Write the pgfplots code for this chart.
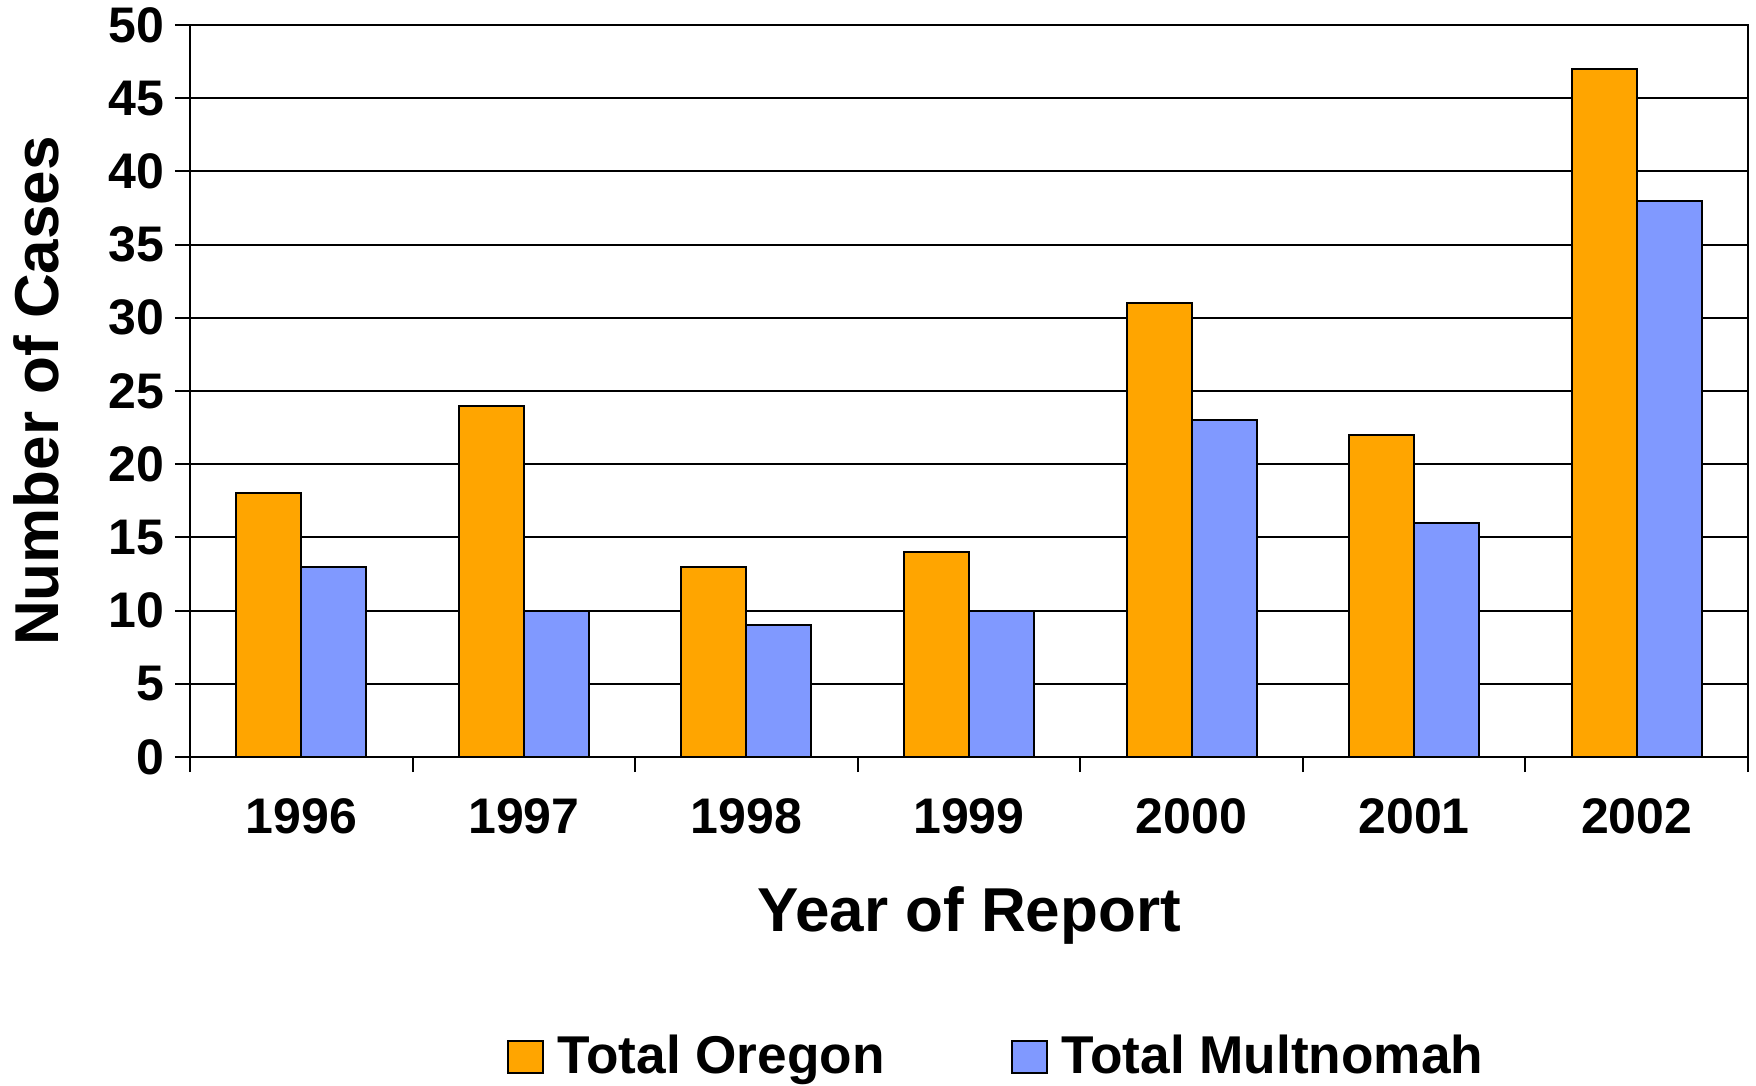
\documentclass[border=0pt]{standalone}
\usepackage{pgfplots}
\pgfplotsset{compat=1.18}
\usepackage{fontspec}
\setmainfont{Liberation Sans}
\definecolor{oregon}{RGB}{255,165,0}
\definecolor{multno}{RGB}{128,153,255}

\begin{document}
\begin{tikzpicture}
\begin{axis}[
  scale only axis, width=389.5pt, height=183pt,
  ybar=0pt, bar width=16.25pt,
  xmin=-0.5, xmax=6.5, ymin=0, ymax=50,
  xtick={0,...,6},
  xticklabels={1996,1997,1998,1999,2000,2001,2002},
  minor xtick={-0.5,0.5,...,6.5},
  ytick={0,5,...,50},
  xtick pos=bottom, ytick pos=left,
  tick align=outside,
  major x tick style={draw=none},
  major tick length=3.75pt, minor tick length=3.75pt,
  tick style={black, line width=0.5pt},
  ymajorgrids, grid style={black, line width=0.5pt},
  axis line style={black, line width=0.5pt},
  /pgf/number format/assume math mode=true,
  tick label style={font=\fontsize{12.5}{15}\selectfont\bfseries},
  xticklabel style={inner sep=0pt, anchor=north, yshift=-6.5pt},
  yticklabel style={inner xsep=2.5pt},
  xlabel={Year of Report}, ylabel={Number of Cases},
  label style={font=\fontsize{15.5}{18}\selectfont\bfseries, inner sep=0pt},
  xlabel style={at={(axis description cs:0.5,-0.1762)}, anchor=north},
  ylabel style={at={(axis description cs:-0.1136,0.5)}, anchor=north, rotate=0},
  legend columns=2,
  legend style={draw=none, fill=none, inner sep=0pt, anchor=center,
    at={(axis description cs:0.5167,-0.4098)},
    font=\fontsize{13.3}{16}\selectfont\bfseries,
    nodes={inner sep=0pt, anchor=west},
    /tikz/every odd column/.append style={column sep=3.5pt},
    /tikz/every even column/.append style={column sep=31.5pt}},
  legend image code/.code={\draw[#1, draw=black, line width=0.5pt] (0pt,-4.1pt) rectangle (8.75pt,4.1pt);},
]
\addplot[fill=oregon, draw=black, line width=0.5pt] coordinates
  {(0,18) (1,24) (2,13) (3,14) (4,31) (5,22) (6,47)};
\addplot[fill=multno, draw=black, line width=0.5pt] coordinates
  {(0,13) (1,10) (2,9) (3,10) (4,23) (5,16) (6,38)};
\legend{Total Oregon, Total Multnomah}
\end{axis}
\pgfresetboundingbox
\path[use as bounding box] (-47.5pt,-82pt) rectangle (391.5pt,189.25pt);
\end{tikzpicture}
\end{document}
